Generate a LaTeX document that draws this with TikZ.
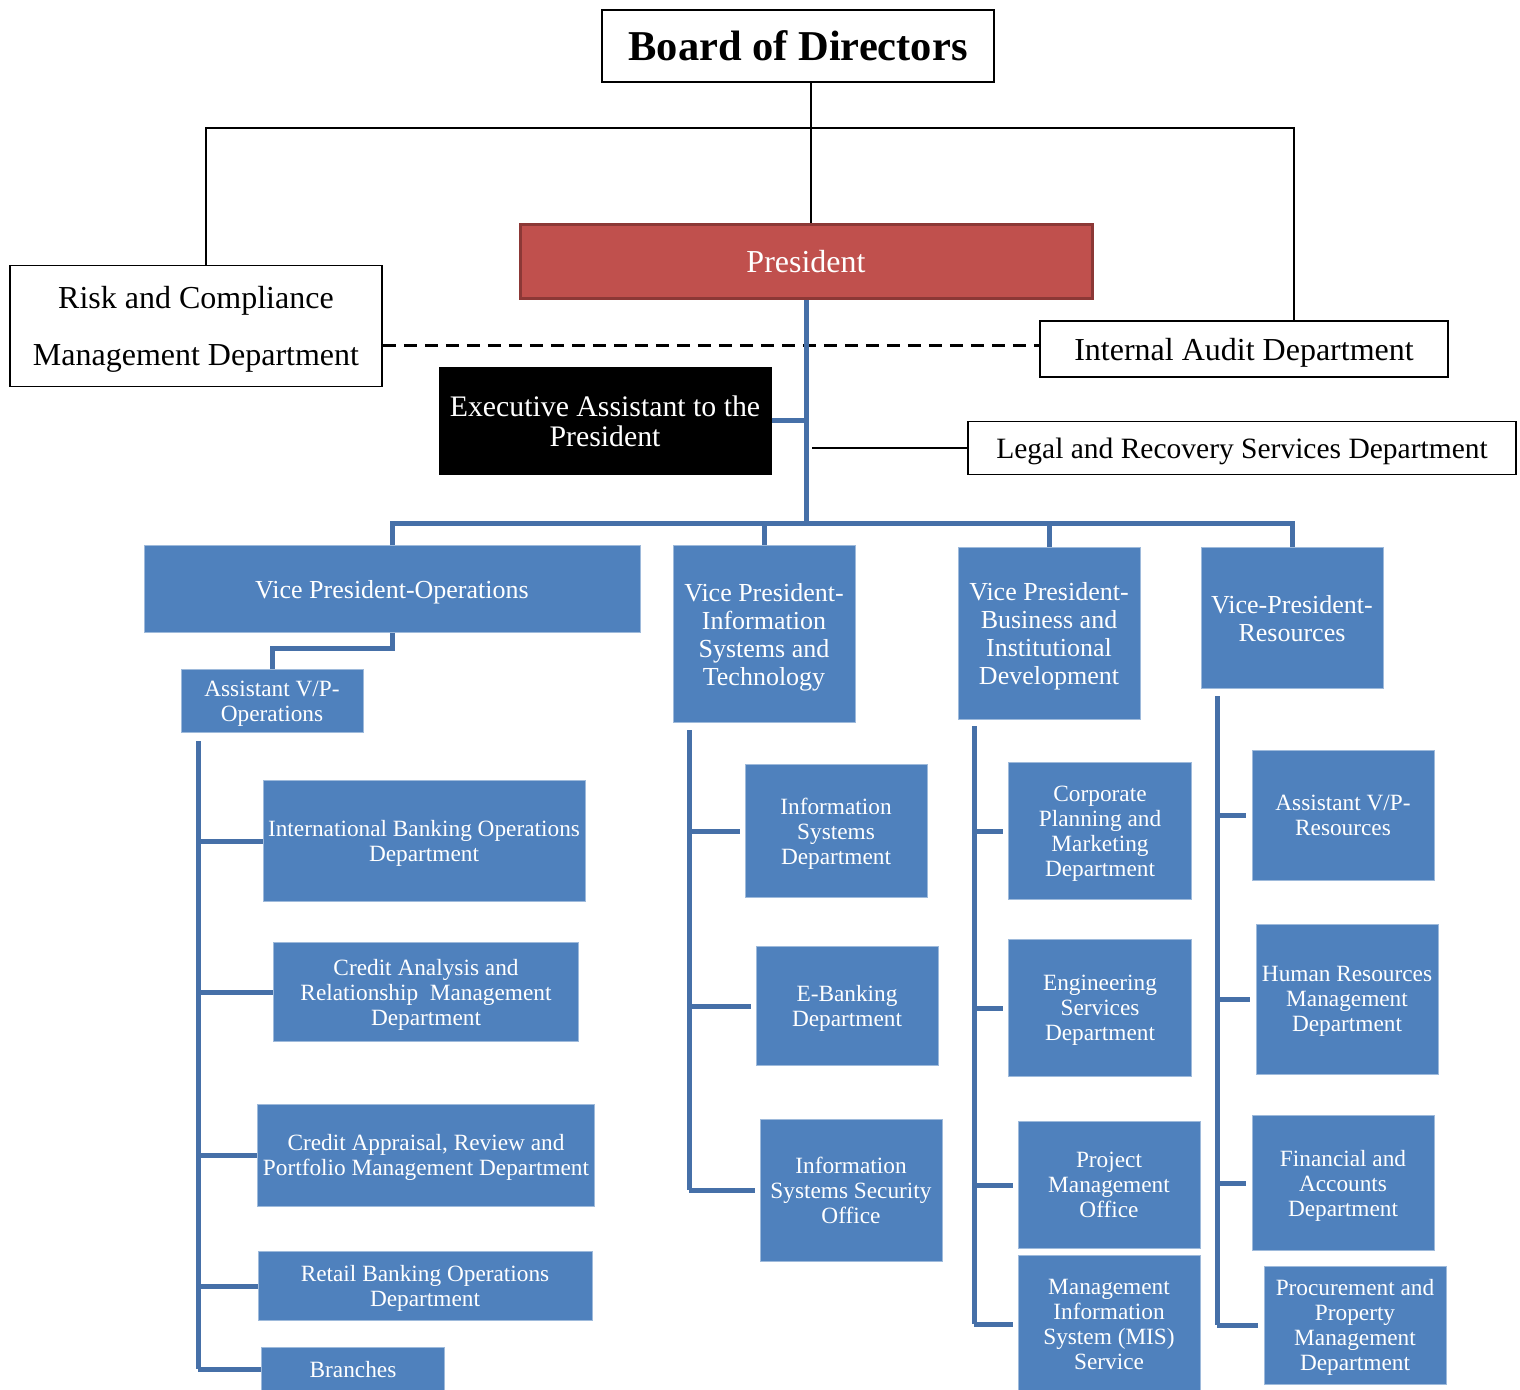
\documentclass[tikz,border=0pt]{standalone}
\usepackage{fontspec}
\setmainfont{Liberation Serif}
\usepackage{tikz}

\definecolor{boxblue}{HTML}{4F81BD}
\definecolor{lineblue}{HTML}{4670A8}
\definecolor{presred}{HTML}{C0504D}
\definecolor{presedge}{HTML}{8C3836}

\tikzset{
  whitebox/.style={draw=black,line width=1.5pt,fill=white,inner sep=0pt,align=center,text depth=0pt},
  bluebox/.style={draw=boxblue!55!white,line width=1pt,fill=boxblue,text=white,inner sep=0pt,align=center,text depth=0pt,font=\fontsize{23.3}{25}\selectfont},
  vpbox/.style={bluebox,font=\fontsize{26}{28}\selectfont},
  blueline/.style={draw=lineblue,line width=5pt},
  blackline/.style={draw=black,line width=1.5pt}
}

\begin{document}
\begin{tikzpicture}[x=1pt,y=-1pt]
\useasboundingbox (0,0) rectangle (1520,1389);
\clip (0,0) rectangle (1520,1389);

% top level
\node[whitebox,line width=2pt,minimum width=392pt,minimum height=71pt,font=\fontsize{42.5}{46}\selectfont\bfseries] (board) at (798,46) {Board of Directors};
\node[draw=presedge,line width=3pt,fill=presred,text=white,inner sep=0pt,text depth=0pt,minimum width=572pt,minimum height=74pt,font=\fontsize{32}{36}\selectfont] (pres) at (806,261) {President};
\node[whitebox,minimum width=372pt,minimum height=121pt,font=\fontsize{32}{57}\selectfont] (risk) at (196,326) {Risk and Compliance\\Management Department};
\node[whitebox,minimum width=408pt,minimum height=56pt,font=\fontsize{32}{36}\selectfont] (audit) at (1244,349) {Internal Audit Department};
\node[fill=black,text=white,inner sep=0pt,align=center,text depth=0pt,minimum width=333pt,minimum height=108pt,font=\fontsize{29.8}{30}\selectfont] (exec) at (605,421) {Executive Assistant to the\\President};
\node[whitebox,minimum width=548pt,minimum height=53pt,font=\fontsize{29.5}{33}\selectfont] (legal) at (1242,448) {Legal and Recovery Services Department};

\coordinate (bdrop) at (811,128);
\coordinate (spine) at (806,523);
\coordinate (legalstub) at (812,448);

% board lines
\draw[blackline] (bdrop |- board.south) -- (bdrop |- pres.north);
\draw[blackline] ([xshift=10pt]risk.north) |- (bdrop) -| ([xshift=50pt]audit.north);
\draw[black,line width=3pt,dash pattern=on 13pt off 8pt] (risk.east |- 0,345) -- (audit.west |- 0,345);

% vice presidents
\node[vpbox,minimum width=496pt,minimum height=87pt] (vpo) at (392,589) {Vice President-Operations};
\node[vpbox,minimum width=182pt,minimum height=177pt] (vpis) at (764,634) {Vice President-\\Information\\Systems and\\Technology};
\node[vpbox,minimum width=182pt,minimum height=172pt] (vpb) at (1049,633) {Vice President-\\Business and\\Institutional\\Development};
\node[vpbox,minimum width=182pt,minimum height=141pt] (vpr) at (1292,618) {Vice-President-\\Resources};

% president spine
\draw[blueline] (pres.south) -- (spine);
\draw[blueline] (exec.east |- 0,420) -- (spine |- 0,420);
\draw[blackline] (legalstub) -- (legal.west);
\draw[blueline] (vpo.north) |- (spine) -| (vpr.north);
\draw[blueline] (vpis.north) -- (vpis.north |- spine);
\draw[blueline] (vpb.north) -- (vpb.north |- spine);

% operations
\node[bluebox,minimum width=182pt,minimum height=63pt] (avpo) at (272,701) {Assistant V/P-\\Operations};
\node[bluebox,minimum width=322pt,minimum height=121pt] (ibo) at (424,841) {International Banking Operations\\Department};
\node[bluebox,minimum width=305pt,minimum height=99pt] (carm) at (426,992) {Credit Analysis and\\Relationship~ Management\\Department};
\node[bluebox,minimum width=337pt,minimum height=102pt] (carp) at (426,1155) {Credit Appraisal, Review and\\Portfolio Management Department};
\node[bluebox,minimum width=334pt,minimum height=69pt] (rbo) at (425,1286) {Retail Banking Operations\\Department};
\node[bluebox,minimum width=183pt,minimum height=44pt] (br) at (353,1369) {Branches};
\draw[blueline] (vpo.south) -- ++(0,15) -| (avpo.north);
\coordinate (opsline) at (198,741);
\draw[blueline] (opsline) -- (opsline |- br.west);
\foreach \n in {ibo,carm,carp,rbo,br}
  \draw[blueline] (opsline |- \n.west) -- (\n.west);

% information systems
\node[bluebox,minimum width=182pt,minimum height=133pt] (isd) at (836,831) {Information\\Systems\\Department};
\node[bluebox,minimum width=182pt,minimum height=119pt] (ebk) at (847,1006) {E-Banking\\Department};
\node[bluebox,minimum width=182pt,minimum height=142pt] (isso) at (851,1190) {Information\\Systems Security\\Office};
\coordinate (isline) at (689,730);
\draw[blueline] (isline) -- (isline |- isso.west);
\foreach \n in {isd,ebk,isso}
  \draw[blueline] (isline |- \n.west) -- ([xshift=-5pt]\n.west);

% business
\node[bluebox,minimum width=183pt,minimum height=137pt] (cpm) at (1100,831) {Corporate\\Planning and\\Marketing\\Department};
\node[bluebox,minimum width=183pt,minimum height=137pt] (esd) at (1100,1008) {Engineering\\Services\\Department};
\node[bluebox,minimum width=182pt,minimum height=127pt] (pmo) at (1109,1185) {Project\\Management\\Office};
\node[bluebox,minimum width=182pt,minimum height=137pt] (mis) at (1109,1324) {Management\\Information\\System (MIS)\\Service};
\coordinate (bline) at (974,726);
\draw[blueline] (bline) -- (bline |- mis.west);
\foreach \n in {cpm,esd,pmo,mis}
  \draw[blueline] (bline |- \n.west) -- ([xshift=-5pt]\n.west);

% resources
\node[bluebox,minimum width=182pt,minimum height=130pt] (avpr) at (1343,815) {Assistant V/P-\\Resources};
\node[bluebox,minimum width=182pt,minimum height=150pt] (hrm) at (1347,999) {Human Resources\\Management\\Department};
\node[bluebox,minimum width=182pt,minimum height=135pt] (fad) at (1343,1183) {Financial and\\Accounts\\Department};
\node[bluebox,minimum width=182pt,minimum height=118pt] (ppm) at (1355,1325) {Procurement and\\Property\\Management\\Department};
\coordinate (rline) at (1217,696);
\draw[blueline] (rline) -- (rline |- ppm.west);
\foreach \n in {avpr,hrm,fad,ppm}
  \draw[blueline] (rline |- \n.west) -- ([xshift=-6pt]\n.west);
\end{tikzpicture}
\end{document}
